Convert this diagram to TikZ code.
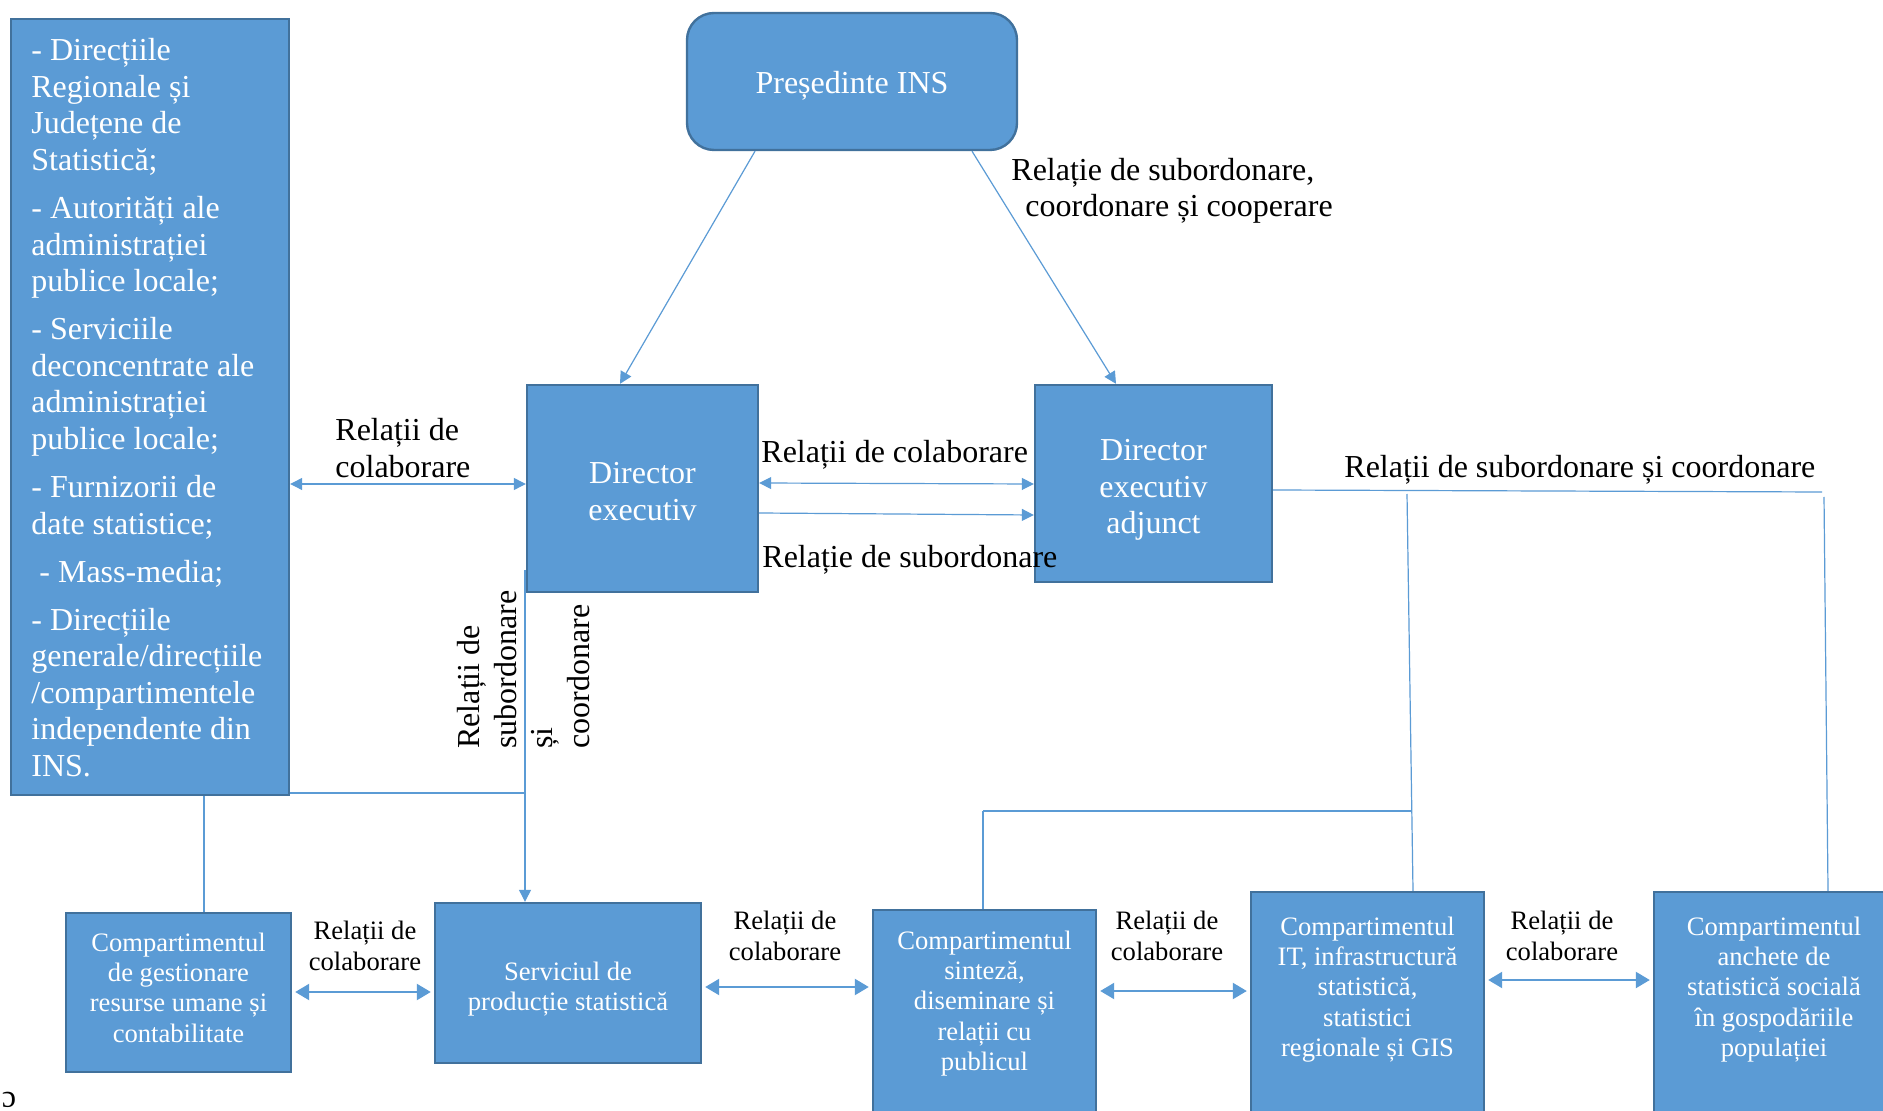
\documentclass[tikz,border=0pt]{standalone}
\usepackage{fontspec}
\setmainfont{Liberation Serif}
\usetikzlibrary{arrows.meta}
\definecolor{boxfill}{HTML}{5B9BD5}
\definecolor{boxline}{HTML}{41719C}
\definecolor{lineblue}{HTML}{5B9BD5}
\newcommand{\fbig}{\fontsize{16}{18.3}\selectfont}
\newcommand{\fsmall}{\fontsize{13.3}{15.2}\selectfont}
\tikzset{
  box/.style={draw=boxline, fill=boxfill, line width=1.2pt, inner sep=0pt},
  wtext/.style={text=white, align=center, inner sep=0pt},
  conn/.style={draw=lineblue, line width=0.6pt},
  arr/.style={conn, -{Triangle[width=6pt,length=6pt]}},
  dbl/.style={conn, {Triangle[width=6pt,length=6pt]}-{Triangle[width=6pt,length=6pt]}},
  bdbl/.style={draw=lineblue, line width=1.1pt, shorten >=1.5pt, shorten <=1.5pt,
    {Triangle[width=8pt,length=7pt]}-{Triangle[width=8pt,length=7pt]}},
  lbl/.style={inner sep=0pt, text=black},
}
\begin{document}
\begin{tikzpicture}[x=0.5pt,y=-0.5pt]
\useasboundingbox (0,0) rectangle (1883,1111);
\clip (0,0) rectangle (1883,1111);
\fill[white] (0,0) rectangle (1883,1111);

% boxes
\node[box, minimum width=139pt, minimum height=388pt] (left) at (150,407) {};
\node[wtext, align=left, anchor=north west, font=\fbig] (lefttxt) at (31,38) {%
- Direcțiile\\Regionale și\\Județene de\\Statistică;\\[5.7pt]
- Autorități ale\\administrației\\publice locale;\\[5.7pt]
- Serviciile\\deconcentrate ale\\administrației\\publice locale;\\[5.7pt]
- Furnizorii de\\date statistice;\\[5.7pt]
\hspace*{4pt}- Mass-media;\\[5.7pt]
- Direcțiile\\generale/direcțiile\\/compartimentele\\independente din\\INS.};

\node[box, rounded corners=13.5pt, minimum width=165pt, minimum height=68.5pt] (pres) at (852,81.5) {};
\node[wtext, font=\fbig] (prest) at (852,86) {Președinte INS};
\node[box, minimum width=115.5pt, minimum height=103.5pt] (dir) at (642.5,488.5) {};
\node[wtext, font=\fbig] (dirt) at (642.5,491.5) {Director\\executiv};
\node[box, minimum width=118.5pt, minimum height=98.5pt] (adj) at (1153.5,483.5) {};
\node[wtext, font=\fbig] (adjt) at (1153.5,490) {Director\\executiv\\adjunct};

\node[box, minimum width=112.5pt, minimum height=79.5pt] (b1) at (178.5,992.5) {};
\node[wtext, font=\fsmall] (b1t) at (178.5,987.5) {Compartimentul\\de gestionare\\resurse umane și\\contabilitate};
\node[box, minimum width=133pt, minimum height=80pt] (b2) at (568,983) {};
\node[wtext, font=\fsmall] (b2t) at (568,989) {Serviciul de\\producție statistică};
\node[box, minimum width=111.5pt, minimum height=115pt] (b3) at (984.5,1025) {};
\node[box, minimum width=116.5pt, minimum height=124pt] (b4) at (1367.5,1016) {};
\node[box, minimum width=120pt, minimum height=124pt] (b5) at (1774,1016) {};
\node[wtext, font=\fsmall] (b3t) at (984.5,1003.5) {Compartimentul\\sinteză,\\diseminare și\\relații cu\\publicul};
\node[wtext, font=\fsmall] (b4t) at (1367.5,989.5) {Compartimentul\\IT, infrastructură\\statistică,\\statistici\\regionale și GIS};
\node[wtext, font=\fsmall] (b5t) at (1774,989.5) {Compartimentul\\anchete de\\statistică socială\\în gospodăriile\\populației};

% top connectors
\draw[arr] (pres.south -| 755,0) -- (dir.north -| 620,0);
\draw[arr] (pres.south -| 972,0) -- (adj.north -| 1116,0);
\draw[dbl] (left.east |- 0,484) -- (dir.west |- 0,484);
\draw[dbl] (dir.east |- 0,483) -- (adj.west |- 0,484);
\draw[arr] (dir.east |- 0,513) -- (adj.west |- 0,515);

% left tree
\coordinate (v1) at (525,570);
\draw[arr] (v1) -- (v1 |- b2.north);
\draw[conn] (left.east |- 0,793) -- (525,793);
\draw[conn] (left.south -| 204,0) -- (b1.north -| 204,0);

% right tree
\coordinate (r1) at (1822,492);
\coordinate (r2) at (1824,497);
\coordinate (m1) at (1407,494);
\coordinate (h1) at (983,811);
\coordinate (h2) at (1411,811);
\draw[conn] (adj.east |- 0,490) -- (r1);
\draw[conn] (r2) -- (b5.north -| 1828,0);
\draw[conn] (m1) -- (b4.north -| 1413,0);
\draw[conn] (h1) -- (h2);
\draw[conn] (h1) -- (b3.north -| h1);

% bottom arrows
\draw[bdbl] (b1.east |- 0,992) -- (b2.west |- 0,992);
\draw[bdbl] (b2.east |- 0,987) -- (b3.west |- 0,987);
\draw[bdbl] (b3.east |- 0,991) -- (b4.west |- 0,991);
\draw[bdbl] (b4.east |- 0,980) -- (b5.west |- 0,980);

% labels
\node[lbl, align=left, anchor=west, font=\fbig] (l1) at (335,448) {Relații de\\colaborare};
\node[lbl, anchor=west, font=\fbig] (l2) at (761,455) {Relații de colaborare};
\node[lbl, anchor=west, font=\fbig] (l3) at (762,560) {Relație de subordonare};
\node[lbl, align=left, anchor=west, font=\fbig] (l4) at (1011,191) {Relație de subordonare,\\\hspace*{7pt}coordonare și cooperare};
\node[lbl, anchor=west, font=\fbig] (l5) at (1344,470) {Relații de subordonare și coordonare};
\node[lbl, align=left, anchor=west, rotate=90, font=\fbig] (l6) at (523.5,749) {Relații de\\subordonare\\și\\coordonare};
\node[lbl, align=center, font=\fsmall] (l7) at (365,946) {Relații de\\colaborare};
\node[lbl, align=center, font=\fsmall] (l8) at (785,936) {Relații de\\colaborare};
\node[lbl, align=center, font=\fsmall] (l9) at (1167,936) {Relații de\\colaborare};
\node[lbl, align=center, font=\fsmall] (l10) at (1562,936) {Relații de\\colaborare};
\node[lbl, font=\fbig] (pg) at (9,1100) {\rotatebox{180}{c}};
\end{tikzpicture}
\end{document}
